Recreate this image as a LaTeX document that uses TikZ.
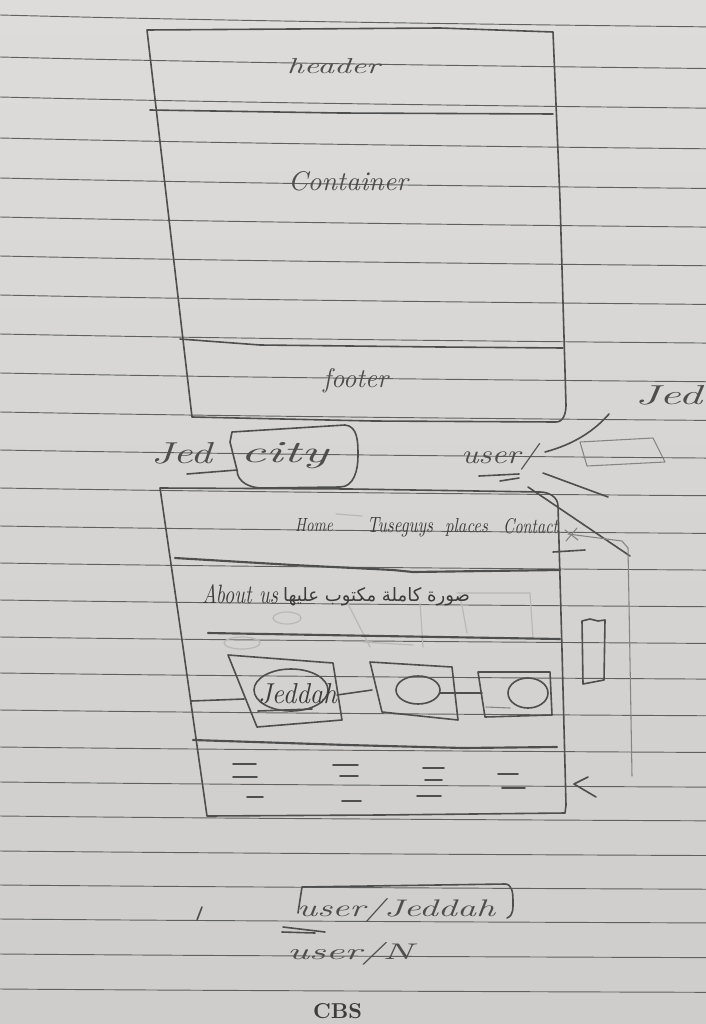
\documentclass[tikz,border=0pt]{standalone}
\usepackage{graphicx}
\usepackage{fontspec}
\newfontfamily\arabicfont[Script=Arabic]{DejaVu Sans}
\TeXXeTstate=1
\definecolor{papertop}{RGB}{221,220,218}
\definecolor{paperbot}{RGB}{207,205,203}
\definecolor{rule}{RGB}{96,96,96}
\definecolor{pencil}{RGB}{78,78,78}
\definecolor{softpencil}{RGB}{132,132,132}
\definecolor{erased}{RGB}{186,184,182}
\definecolor{ink}{RGB}{60,60,60}
% one unit of the picture is one pixel of the page
\newdimen\px \px=0.75pt
\newcommand\hand[3]{\resizebox{#1\px}{#2\px}{\itshape #3}}
\tikzset{
  pencil/.style={draw=pencil, line width=1.2pt, line cap=round, line join=round},
  heavy/.style={draw=pencil, line width=1.6pt, line cap=round, line join=round},
  faint/.style={draw=softpencil, line width=0.8pt, line cap=round, line join=round},
  erasedline/.style={draw=erased, line width=0.9pt, line cap=round, line join=round},
  ruling/.style={draw=rule, line width=0.7pt},
  label/.style={inner sep=0pt, outer sep=0pt, text=pencil, anchor=base west},
}
\begin{document}
\begin{tikzpicture}[x=0.75pt,y=-0.75pt]
% paper
\shade[top color=papertop, bottom color=paperbot] (0,0) rectangle (706,1024);
\useasboundingbox (0,0) rectangle (706,1024);
% ruled lines of the notebook page
\foreach \L in {15,57,97,138,178,217,256,295,334,373,412,450,488,526,563,600,637,673,710,747,782,816,851,885,919,954,989}{
  \pgfmathsetmacro\d{3+9*(1-\L/1024)}
  \draw[ruling] (0,\L) .. controls (200,\L+0.45*\d) and (450,\L+0.75*\d) .. (706,\L+\d);
}

% ---------- page layout: header / container / footer ----------
\draw[pencil] (147,30) -- (440,28) -- (553,32) -- (560,200) -- (566,405)
  to[out=-90,in=0] (556,422) -- (373,421) -- (192,417) -- cycle;
\draw[pencil] (150,110) -- (340,113) -- (553,114);
\draw[pencil] (180,339) -- (260,345) -- (440,347) -- (563,348);
\node[label] (header) at (287,74) {\hand{93}{15}{header}};
\node[label] (container) at (288,190) {\hand{120}{19}{Container}};
\node[label] (footer) at (323,387) {\hand{65}{19}{footer}};

% ---------- routing notes ----------
\node[label] (jedL) at (151,463) {\hand{61}{21}{Jed}};
\draw[pencil] (187,474) -- (237,470);
\node[label] (city) at (240,462) {\hand{88}{20}{city}};
\draw[pencil] (232,432) -- (345,425) to[out=-5,in=90] (358,456)
  to[out=-90,in=0] (340,487) -- (262,488) to[out=180,in=-90] (237,470) -- (230,442) -- cycle;
\node[label] (user) at (461,463) {\hand{76}{20}{user/}};
\draw[pencil] (479,476) -- (519,474);
\draw[pencil] (500,481) -- (519,478);
\node[label] (jedR) at (635,404) {\hand{67}{19}{Jed}};
\coordinate (arrTop) at (609,414);
\coordinate (arrEnd) at (545,452);
\draw[pencil] (arrTop) .. controls (595,430) and (575,444) .. (arrEnd);
\draw[faint] (580,442) -- (653,438) -- (665,462) -- (587,466) -- cycle;
\draw[pencil] (543,473) -- (608,497);
\draw[pencil] (528,487) -- (630,556);

% ---------- faint erased marks ----------
\draw[erasedline] (347,602) -- (370,647);
\draw[erasedline] (420,603) -- (423,647);
\draw[erasedline] (457,593) -- (530,593) -- (533,638);
\draw[erasedline] (460,595) -- (467,633);
\draw[erasedline] (287,618) ellipse [x radius=14, y radius=6];
\draw[erasedline] (242,643) ellipse [x radius=18, y radius=6];
\draw[erasedline] (363,642) -- (413,645);
\draw[erasedline] (336,514) -- (362,516);

% ---------- home page wireframe ----------
\draw[pencil] (160,488) -- (350,489) -- (540,492) to[out=0,in=90] (558,506)
  -- (562,650) -- (566,805) -- (565,813) -- (380,815) -- (207,816) -- (182,640) -- cycle;
% side panel beside the page
\draw[faint] (568,534) -- (622,541) -- (628,548) -- (630,660) -- (632,776);
\draw[pencil] (582,621) -- (590,619) -- (598,621) -- (605,620) -- (604,680) -- (583,684) -- cycle;
\draw[pencil] (588,777) -- (574,784) -- (596,797);
% navigation bar
\node[label, text=ink] (home) at (295,531) {\hand{38}{13}{Home}};
\node[label, text=ink] (guys) at (367,532) {\hand{66}{15}{Tuseguys}};
\node[label, text=ink] (places) at (445,532) {\hand{43}{14}{places}};
\node[label, text=ink] (contact) at (503,533) {\hand{55}{15}{Contact}};
\draw[faint] (565,530) -- (578,540);
\draw[faint] (566,541) -- (577,528);
\draw[pencil] (553,552) -- (585,550);
\draw[heavy] (175,558) -- (293,565) -- (393,570) -- (413,572) -- (560,570);
% about section
\node[label, text=ink] (about) at (202,603) {\hand{76}{19}{About us}};
\node[label, text=ink] (aboutAr) at (283,601) {\resizebox{187\px}{14\px}{\arabicfont\beginR صورة كاملة مكتوب عليها\endR}};
\draw[heavy] (208,633) -- (380,636) -- (560,639);
% picture cards
\coordinate (c1a) at (228,655); \coordinate (c1b) at (333,663);
\coordinate (c1c) at (342,720); \coordinate (c1d) at (257,727);
\coordinate (c2a) at (370,662); \coordinate (c2b) at (452,667);
\coordinate (c2c) at (458,720); \coordinate (c2d) at (382,712);
\coordinate (c3a) at (478,672); \coordinate (c3b) at (550,672);
\coordinate (c3c) at (552,715); \coordinate (c3d) at (485,717);
\draw[pencil] (c1a) -- (c1b) -- (c1c) -- (c1d) -- cycle;
\draw[pencil] (c2a) -- (c2b) -- (c2c) -- (c2d) -- cycle;
\draw[pencil] (c3a) -- (c3b) -- (c3c) -- (c3d) -- cycle;
\draw[pencil] (291,690) ellipse [x radius=37, y radius=21];
\draw[pencil] (418,690) ellipse [x radius=22, y radius=14];
\draw[pencil] (528,693) ellipse [x radius=20, y radius=15];
\node[label, text=ink] (jeddah) at (258,703) {\hand{79}{20}{Jeddah}};
\draw[pencil] (258,711) -- (312,709);
\draw[pencil] (191,701) -- (244,699);
\draw[pencil] (337,695) -- (372,690);
\draw[pencil] (440,693) -- (482,693);
\draw[faint] (486,707) -- (510,708);
% footer of the page
\draw[heavy] (193,740) -- (347,745) -- (463,748) -- (557,747);
\foreach \a/\b/\y in {233/256/764, 233/257/777, 247/263/797,
                      333/358/765, 340/358/776, 342/361/801,
                      423/444/768, 425/442/780, 417/441/796,
                      498/518/774, 502/525/788}{
  \draw[pencil] (\a,\y) -- (\b,\y);
}

% ---------- url notes ----------
\draw[pencil] (197,920) -- (202,907);
\node[label] (urlA) at (297,916) {\hand{198}{18}{user/Jeddah}};
\draw[pencil] (298,913) -- (302,887) -- (505,884) to[out=0,in=90] (513,900) to[out=-90,in=20] (507,918);
\draw[pencil] (283,927) -- (325,932);
\draw[pencil] (282,932) -- (315,933);
\node[label] (urlB) at (287,959) {\hand{126}{17}{user/N}};
\node[label, text=ink] (cbs) at (313,1018) {\resizebox{49\px}{15\px}{\bfseries CBS}};
\end{tikzpicture}
\end{document}
